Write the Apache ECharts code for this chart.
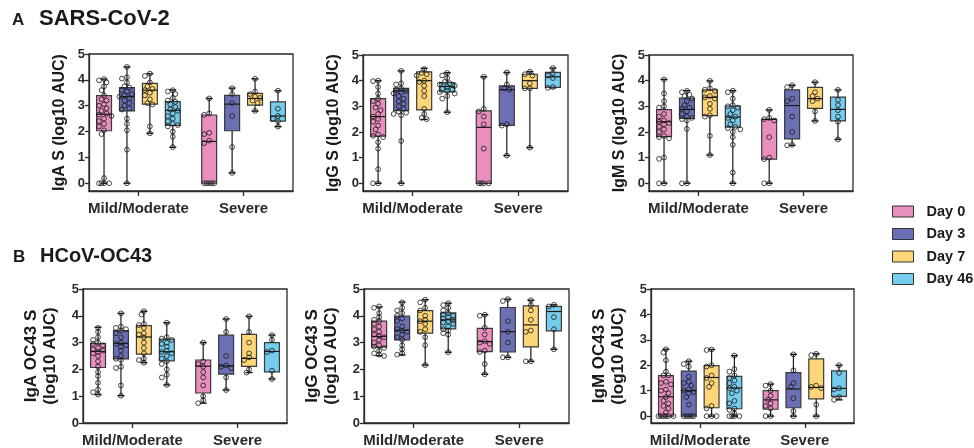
<!DOCTYPE html>
<html><head><meta charset="utf-8">
<script src="https://cdn.jsdelivr.net/npm/echarts@6/dist/echarts.min.js"></script>
<style>html,body{margin:0;padding:0;background:#fff}#c{width:974px;height:448px}</style>
</head><body><div id="c"></div>
<script>
const categories = ['Mild/Moderate', 'Severe'];
const days = ['Day 0', 'Day 3', 'Day 7', 'Day 46'];
const yTicks = [0, 1, 2, 3, 4, 5];
// box stats per day: [min, q1, median, q3, max]
// ---- A: SARS-CoV-2 IgA S
const igaS_mild_box = [[0,2.03,2.67,3.39,4.03],[0,2.8,3.35,3.7,4.5],[1.93,3.06,3.6,3.86,4.24],[1.39,2.24,2.82,3.16,3.61]];
const igaS_sev_box = [[0,0,1.62,2.64,3.28],[0.4,2.03,3.06,3.4,3.68],[2.79,3.02,3.28,3.48,4.04],[2.19,2.4,2.6,3.15,3.58]];
const igaS_mild_pts = [[4.03,3.98,3.9,3.75,3.6,3.4,3.25,3.2,3.05,3.0,2.9,2.8,2.7,2.65,2.6,2.5,2.4,2.3,2.2,2.05,1.9,0.2,0,0,0,0],
  [4.5,4.1,4.05,3.9,3.75,3.7,3.6,3.55,3.45,3.4,3.35,3.3,3.2,3.1,3.0,2.9,2.85,2.5,2.3,2.05,1.3,0],
  [4.24,4.15,3.9,3.75,3.65,3.6,3.5,3.4,3.25,3.1,3.05,2.2,1.93],
  [3.6,3.55,3.45,3.3,3.2,3.15,3.05,2.95,2.85,2.8,2.7,2.6,2.5,2.4,2.3,2.25,2.2,2.0,1.8,1.4]];
const igaS_sev_pts = [[3.28,2.7,2.65,1.95,1.9,1.65,1.55,0,0,0,0,0],[3.68,3.45,3.1,2.6,1.4,0.4],[4.04,3.55,3.45,3.35,3.3,3.2,3.1,2.8],[3.58,2.88,2.6,2.5,2.4,2.19]];
// ---- A: IgG S
const iggS_mild_box = [[0,1.84,2.6,3.3,4.0],[0,2.83,3.6,3.7,4.38],[2.49,2.86,4.0,4.34,4.48],[2.77,3.56,3.77,3.92,4.31]];
const iggS_sev_box = [[0,0,2.18,2.82,4.15],[1.08,2.26,3.65,3.8,4.32],[1.39,3.7,4.0,4.25,4.35],[3.72,3.74,4.15,4.32,4.49]];
const iggS_mild_pts = [[4.0,3.98,3.75,3.5,3.3,3.2,3.1,2.95,2.85,2.7,2.6,2.5,2.4,2.25,2.1,1.9,1.85,1.8,1.6,1.35,0.55,0,0],
  [4.38,3.9,3.85,3.7,3.65,3.6,3.55,3.5,3.4,3.3,3.2,3.1,3.0,2.9,2.8,2.75,2.7,2.65,1.65,0],
  [4.45,4.3,4.25,4.2,4.0,3.95,3.8,3.6,3.4,2.9,2.7,2.55,2.5],
  [4.3,4.2,4.1,3.95,3.9,3.85,3.8,3.75,3.7,3.65,3.6,3.55,3.5,3.4,3.3,2.77]];
const iggS_sev_pts = [[4.15,2.9,2.8,2.6,2.3,1.35,0,0,0,0],[4.32,3.85,3.7,3.65,2.3,2.25,1.08],[4.35,4.25,4.2,3.9,3.7,3.7,1.39],[4.49,4.3,4.2,4.1,3.75,3.72]];
// ---- A: IgM S
const igmS_mild_box = [[0,1.82,2.4,2.87,4.05],[0,2.53,2.88,3.32,3.61],[1.1,2.64,3.35,3.64,3.99],[0,2.19,2.58,3.01,3.61]];
const igmS_sev_box = [[0,0.94,2.49,2.49,2.86],[1.48,1.73,3.03,3.64,3.82],[2.43,2.92,3.3,3.74,3.94],[1.71,2.43,2.88,3.36,3.64]];
const igmS_mild_pts = [[4.05,3.5,3.2,3.0,2.95,2.7,2.6,2.45,2.4,2.35,2.3,2.2,2.1,2.0,1.85,1.8,1.75,1.0,0.95,0,0],
  [3.6,3.55,3.45,3.4,3.3,3.2,3.05,2.95,2.9,2.8,2.7,2.6,2.55,2.5,2.45,2.12,0,0],
  [3.99,3.7,3.65,3.6,3.4,3.35,3.3,3.1,2.9,2.65,2.6,1.85,1.1],
  [3.61,3.55,3.3,3.05,3.0,2.95,2.85,2.7,2.6,2.55,2.45,2.3,2.2,2.15,2.1,2.0,1.8,1.5,0.42,0]];
const igmS_sev_pts = [[2.86,2.55,2.5,2.45,1.8,1.0,0.94,0,0],[3.82,3.75,3.3,3.2,2.6,2.0,1.5,1.48],[3.94,3.55,3.4,3.3,3.2,2.8,2.43],[3.64,3.25,3.05,2.85,2.6,2.4,1.71]];
// ---- B: HCoV-OC43 IgA
const igaOC_mild_box = [[1.06,2.07,2.67,2.96,3.57],[1.02,2.39,2.97,3.45,4.09],[2.25,2.57,3.21,3.63,4.17],[1.42,2.32,2.66,3.13,3.74]];
const igaOC_sev_box = [[0.74,1.12,2.12,2.35,3.0],[1.23,1.82,2.13,3.28,3.88],[1.88,2.11,2.41,3.31,3.98],[1.64,1.91,2.67,3.0,3.28]];
const igaOC_mild_pts = [[3.55,3.4,3.2,3.1,3.0,2.95,2.9,2.8,2.75,2.7,2.65,2.6,2.5,2.3,2.1,1.9,1.75,1.5,1.25,1.15,1.06],
  [4.09,3.6,3.55,3.5,3.45,3.35,3.2,3.0,2.95,2.9,2.85,2.7,2.5,2.4,2.35,2.1,2.05,1.4,1.02],
  [4.17,4.05,3.7,3.65,3.55,3.35,3.3,3.2,3.0,2.8,2.6,2.4,2.35,2.25],
  [3.74,3.2,3.15,3.1,3.0,2.95,2.85,2.7,2.65,2.6,2.5,2.4,2.3,2.2,2.0,1.8,1.7,1.42]];
const igaOC_sev_pts = [[3.0,2.3,2.2,2.1,1.9,1.7,1.4,1.0,0.85,0.74],[3.88,3.4,2.5,2.15,2.1,2.05,1.7,1.23],[3.98,3.4,3.0,2.6,2.45,2.35,2.0,1.88],[3.28,3.1,2.7,2.65,1.95,1.64]];
// ---- B: IgG OC43
const iggOC_mild_box = [[2.51,2.83,3.23,3.8,4.33],[2.54,3.1,3.46,3.99,4.51],[2.16,3.35,3.8,4.19,4.6],[2.64,3.51,3.85,4.11,4.47]];
const iggOC_sev_box = [[1.82,2.66,3.04,3.53,4.04],[2.45,2.65,3.41,4.31,4.62],[2.3,2.84,3.66,4.37,4.58],[2.75,3.44,4.16,4.35,4.41]];
const iggOC_mild_pts = [[4.35,4.3,4.1,3.95,3.85,3.8,3.7,3.6,3.5,3.4,3.3,3.25,3.2,3.1,3.0,2.9,2.85,2.8,2.7,2.6,2.55,2.5],
  [4.5,4.3,4.2,4.1,4.0,3.9,3.8,3.6,3.5,3.45,3.4,3.3,3.2,3.1,2.9,2.75,2.6,2.55],
  [4.6,4.5,4.3,4.2,4.0,3.85,3.8,3.7,3.5,3.4,3.2,2.9,2.16],
  [4.47,4.4,4.3,4.2,4.1,4.05,4.0,3.95,3.9,3.85,3.8,3.75,3.7,3.6,3.5,3.45,3.35,3.3,2.64]];
const iggOC_sev_pts = [[4.04,4.0,3.55,3.3,3.05,3.0,2.95,2.7,2.65,2.2,1.82],[4.62,4.55,3.8,3.4,3.0,2.45,2.45],[4.58,4.4,4.2,3.85,3.45,3.4,2.3,2.3],[4.41,4.35,3.95,3.5,2.75]];
// ---- B: IgM OC43
const igmOC_mild_box = [[0,0,0.76,1.59,2.63],[0,0,1.0,1.77,2.16],[0,0.33,1.52,1.99,2.62],[0,0.29,1.11,1.56,2.38]];
const igmOC_sev_box = [[0,0.27,0.64,1.0,1.26],[0,0.33,1.07,1.71,2.43],[0,0.68,1.13,2.25,2.45],[0.64,0.78,1.09,1.78,2.0]];
const igmOC_mild_pts = [[2.63,2.5,2.2,1.75,1.6,1.6,1.35,1.3,1.25,1.05,1.0,0.9,0.75,0.6,0.5,0.4,0.3,0.15,0,0,0,0,0,0],
  [2.16,2.05,1.95,1.55,1.35,1.3,1.2,1.05,1.0,0.95,0.9,0.75,0.45,0,0,0,0,0],
  [2.62,2.6,2.0,1.95,1.6,1.5,1.3,1.15,0.4,0.3,0,0,0],
  [2.38,1.85,1.75,1.6,1.5,1.4,1.3,1.15,1.1,1.0,0.9,0.6,0.5,0.3,0.25,0.1,0,0,0,0]];
const igmOC_sev_pts = [[1.26,1.2,1.0,0.8,0.65,0.5,0.4,0.3,0,0],[2.43,1.8,1.3,1.15,0.7,0.2,0],[2.45,2.4,1.2,1.15,1.1,0.45,0],[2.0,1.7,1.1,1.05,0.75,0.64]];

const colors = ['#E98FBF', '#6B70B5', '#FED678', '#76CCEC'];
const FONT = 'Liberation Sans, Arial, Helvetica, sans-serif';
const X_MIN = -0.47, X_MAX = 1.47, STEP = 0.218, BOX_W = 0.142;

const panels = [
  {name:'IgA S (log10 AUC)', box:[igaS_mild_box, igaS_sev_box], pts:[igaS_mild_pts, igaS_sev_pts], g:{left:89, top:54, width:204, height:137}, ymin:-0.3, gap:20},
  {name:'IgG S (log10 AUC)', box:[iggS_mild_box, iggS_sev_box], pts:[iggS_mild_pts, iggS_sev_pts], g:{left:363, top:55, width:205, height:136}, ymin:-0.3, gap:20},
  {name:'IgM S (log10 AUC)', box:[igmS_mild_box, igmS_sev_box], pts:[igmS_mild_pts, igmS_sev_pts], g:{left:649, top:55, width:204, height:136}, ymin:-0.3, gap:20},
  {name:'IgA OC43 S\n(log10 AUC)', box:[igaOC_mild_box, igaOC_sev_box], pts:[igaOC_mild_pts, igaOC_sev_pts], g:{left:83, top:289, width:204, height:136}, ymin:0, gap:23},
  {name:'IgG OC43 S\n(log10 AUC)', box:[iggOC_mild_box, iggOC_sev_box], pts:[iggOC_mild_pts, iggOC_sev_pts], g:{left:364, top:289, width:205, height:136}, ymin:0, gap:23},
  {name:'IgM OC43 S\n(log10 AUC)', box:[igmOC_mild_box, igmOC_sev_box], pts:[igmOC_mild_pts, igmOC_sev_pts], g:{left:651, top:289, width:203, height:135}, ymin:-0.27, gap:23}
];

// simple beeswarm spread (layout only) in pixel space, kept inside the box width
function swarm(values, center, pxX, pxY) {
  const placed = [];
  const out = [];
  const sorted = values.slice().sort((a, b) => b - a);
  const D = 3.9, stepPx = 2.5;
  for (const v of sorted) {
    const yp = v * pxY;
    let best = 0, bestScore = -1;
    for (let k = 0; k < 7; k++) {
      const off = k === 0 ? 0 : (k % 2 ? -1 : 1) * Math.ceil(k / 2) * stepPx;
      let minD = Infinity;
      for (const p of placed) {
        const d = Math.hypot(p[0] - off, p[1] - yp);
        if (d < minD) minD = d;
      }
      if (minD >= D) { best = off; bestScore = Infinity; break; }
      if (minD > bestScore + 0.01) { bestScore = minD; best = off; }
    }
    placed.push([best, yp]);
    out.push([center + best / pxX, v]);
  }
  return out;
}

function renderBox(params, api) {
  const x = api.value(0);
  const pMin = api.coord([x, api.value(1)]);
  const pQ1 = api.coord([x, api.value(2)]);
  const pMed = api.coord([x, api.value(3)]);
  const pQ3 = api.coord([x, api.value(4)]);
  const pMax = api.coord([x, api.value(5)]);
  const hw = api.size([BOX_W, 0])[0] / 2;
  const cw = 3.5;
  const color = api.visual('color');
  const ln = (x1, y1, x2, y2, w) => ({type:'line', shape:{x1, y1, x2, y2}, style:{stroke:'#1a1a1a', lineWidth:w || 1.2}});
  return {type:'group', children:[
    ln(pMin[0], pMin[1], pMax[0], pMax[1]),
    ln(pMin[0] - cw, pMin[1], pMin[0] + cw, pMin[1], 1.4),
    ln(pMax[0] - cw, pMax[1], pMax[0] + cw, pMax[1], 1.4),
    {type:'rect', shape:{x:pQ3[0] - hw, y:pQ3[1], width:hw * 2, height:Math.max(pQ1[1] - pQ3[1], 0.5)},
     style:{fill:color, stroke:'#3a3a3a', lineWidth:1.2}},
    ln(pMed[0] - hw, pMed[1], pMed[0] + hw, pMed[1], 1.2)
  ]};
}

const grids = [], xAxes = [], yAxes = [], series = [];
panels.forEach((p, gi) => {
  grids.push(Object.assign({show:true, borderColor:'#2a2a2a', borderWidth:1.3, backgroundColor:'transparent'}, p.g));
  xAxes.push({type:'value', gridIndex:gi, min:X_MIN, max:X_MAX,
    axisLine:{show:true, onZero:false, lineStyle:{color:'#2a2a2a', width:1.3}},
    axisTick:{show:true, customValues:[0, 1], length:5, lineStyle:{color:'#2a2a2a', width:1.3}},
    axisLabel:{customValues:[0, 1], formatter:v => categories[Math.round(v)], fontFamily:FONT, fontWeight:'bold', fontSize:15, color:'#2a2a2a', margin:10},
    splitLine:{show:false}});
  yAxes.push({type:'value', gridIndex:gi, min:p.ymin, max:5,
    name:p.name, nameLocation:'middle', nameRotate:90, nameGap:p.gap,
    nameTextStyle:{fontFamily:FONT, fontWeight:'bold', fontSize:p.ymin === -0.3 ? 16 : 17, color:'#1a1a1a', lineHeight:19},
    axisLine:{show:true, onZero:false, lineStyle:{color:'#2a2a2a', width:1.3}},
    axisTick:{show:true, customValues:yTicks, length:4, lineStyle:{color:'#2a2a2a', width:1.3}},
    axisLabel:{customValues:yTicks, fontFamily:FONT, fontWeight:'bold', fontSize:13, color:'#2a2a2a', margin:4},
    splitLine:{show:false}});
  const pxX = p.g.width / (X_MAX - X_MIN);
  const pxY = p.g.height / (5 - p.ymin);
  days.forEach((d, di) => {
    const data = [0, 1].map(ci => {
      const b = p.box[ci][di];
      return [ci + (di - 1.5) * STEP, b[0], b[1], b[2], b[3], b[4]];
    });
    series.push({type:'custom', name:d, xAxisIndex:gi, yAxisIndex:gi, renderItem:renderBox,
      itemStyle:{color:colors[di]}, encode:{x:0, y:[1, 2, 3, 4, 5]}, data, z:2, silent:true});
  });
  days.forEach((d, di) => {
    let pts = [];
    [0, 1].forEach(ci => { pts = pts.concat(swarm(p.pts[ci][di], ci + (di - 1.5) * STEP, pxX, pxY)); });
    series.push({type:'scatter', xAxisIndex:gi, yAxisIndex:gi, data:pts, symbol:'circle', symbolSize:4.8,
      itemStyle:{color:'rgba(255,255,255,0)', borderColor:'#1a1a1a', borderWidth:1}, z:5, silent:true});
  });
});

const chart = echarts.init(document.getElementById('c'), null, {renderer:'canvas'});
chart.setOption({
  animation:false,
  backgroundColor:'#ffffff',
  title:[
    {text:'A', left:12, top:12, padding:0, textStyle:{fontFamily:FONT, fontWeight:'bold', fontSize:17, color:'#1a1a1a'}},
    {text:'SARS-CoV-2', left:39, top:8, padding:0, textStyle:{fontFamily:FONT, fontWeight:'bold', fontSize:22, color:'#1a1a1a'}},
    {text:'B', left:13, top:249, padding:0, textStyle:{fontFamily:FONT, fontWeight:'bold', fontSize:17, color:'#1a1a1a'}},
    {text:'HCoV-OC43', left:40, top:246, padding:0, textStyle:{fontFamily:FONT, fontWeight:'bold', fontSize:20, color:'#1a1a1a'}}
  ],
  legend:{orient:'vertical', left:892, top:204, padding:0, itemWidth:21, itemHeight:11, itemGap:7.5, selectedMode:false,
    textStyle:{fontFamily:FONT, fontWeight:'bold', fontSize:14.5, color:'#1a1a1a', padding:[0, 0, 0, 8]},
    data:days.map((d, i) => ({name:d, icon:'rect', itemStyle:{color:colors[i], borderColor:'#333', borderWidth:1}}))},
  grid:grids, xAxis:xAxes, yAxis:yAxes, series
});
</script></body></html>
